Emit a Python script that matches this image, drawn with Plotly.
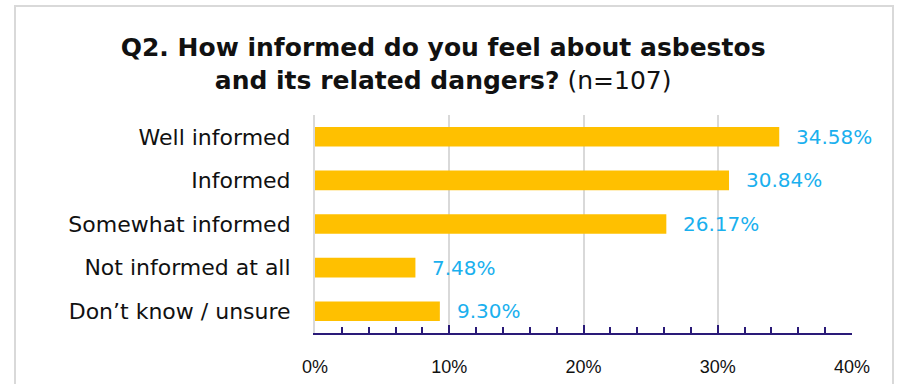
import plotly.graph_objects as go

categories = ["Well informed", "Informed", "Somewhat informed", "Not informed at all", "Don’t know / unsure"]
values = [34.58, 30.84, 26.17, 7.48, 9.30]
tick_vals = [0, 10, 20, 30, 40]
tick_text = ["0%", "10%", "20%", "30%", "40%"]

W, H = 897, 384
L, R, T, B = 315, 45, 115, 51
FONT = "DejaVu Sans, Verdana, sans-serif"

fig = go.Figure(go.Bar(
    y=categories, x=values, orientation="h",
    marker=dict(color="#FFC000", line=dict(width=0)),
    width=0.45,
))

for c, v in zip(categories, values):
    fig.add_annotation(x=v, y=c, text=f"{v:.2f}%", showarrow=False,
                       xanchor="left", yanchor="middle", xshift=15,
                       font=dict(family=FONT, size=20, color="#1AB0EE"))

pw, ph = W - L - R, H - T - B
fig.add_shape(type="rect", xref="paper", yref="paper",
              x0=(15 - L) / pw, x1=(893 - L) / pw,
              y0=-(B + 20) / ph, y1=1 + (T - 6) / ph,
              line=dict(color="#D9D9D9", width=2), fillcolor="rgba(0,0,0,0)", layer="below")

fig.update_layout(
    width=W, height=H,
    margin=dict(l=L, r=R, t=T, b=B),
    paper_bgcolor="white", plot_bgcolor="white",
    showlegend=False,
    title=dict(
        text="<b>Q2. How informed do you feel about asbestos</b><br><b>and its related dangers?</b> (n=107)",
        x=0.494, xanchor="center", y=0.854, yanchor="middle", xref="container", yref="container",
        font=dict(family=FONT, size=25, color="#111111"),
    ),
    xaxis=dict(
        range=[0, 40], tickvals=tick_vals, ticktext=tick_text,
        showgrid=True, gridcolor="#D9D9D9", gridwidth=2,
        showline=True, linecolor="#2A1A78", linewidth=2,
        ticks="inside", ticklen=8, tickcolor="#2A1A78", tickwidth=2,
        minor=dict(dtick=2, ticks="inside", ticklen=6, tickcolor="#2A1A78", tickwidth=2, showgrid=False),
        tickfont=dict(family="Liberation Sans, Arial, sans-serif", size=18, color="#111111"),
        ticklabelstandoff=16, automargin=False,
        zeroline=False, fixedrange=True,
    ),
    yaxis=dict(
        categoryorder="array", categoryarray=categories[::-1],
        tickfont=dict(family=FONT, size=22, color="#111111"),
        ticks="", ticklabelstandoff=18, showgrid=False, zeroline=False, automargin=False,
        showline=True, linecolor="#D9D9D9", linewidth=2,
    ),
    bargap=0.55,
)

fig.write_html("out.html")
